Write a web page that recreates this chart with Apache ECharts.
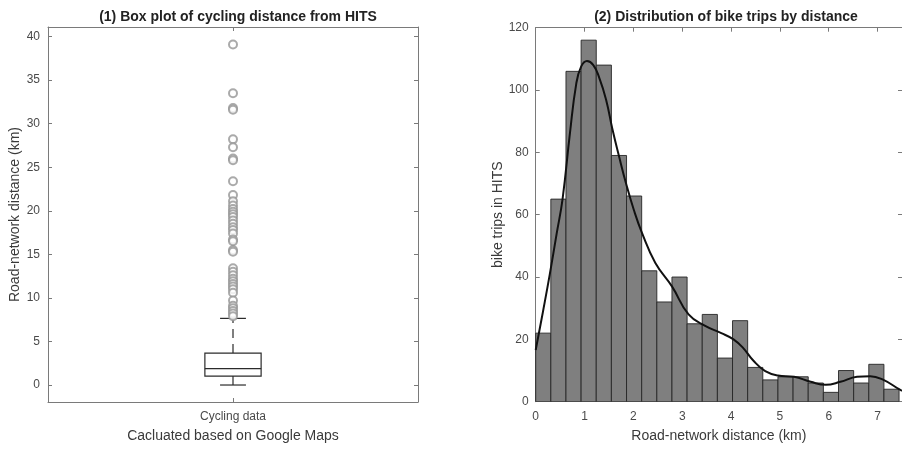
<!DOCTYPE html>
<html>
<head>
<meta charset="utf-8">
<script src="https://cdn.jsdelivr.net/npm/echarts@6/dist/echarts.min.js"></script>
<style>
html,body{margin:0;padding:0;background:#fff;}
#c{width:902px;height:451px;}
</style>
</head>
<body>
<div id="c"></div>
<script>
// ---------- data: panel (1) box plot ----------
var boxCategories = ['Cycling data'];
var boxStats = [0, 1.03, 1.87, 3.67, 7.65]; // lower whisker, Q1, median, Q3, upper whisker
var outliers = [39.1, 33.5, 31.8, 31.6, 28.2, 27.3, 26.0, 25.8, 23.4, 21.8, 21.1, 20.6, 20.2, 19.9,
  19.6, 19.3, 18.9, 18.5, 18.1, 17.8, 17.4, 16.7, 16.5, 15.5, 15.3, 13.4, 13.0, 12.6, 12.2, 11.9,
  11.6, 11.3, 11.0, 10.6, 9.7, 9.1, 8.8, 8.5, 8.2, 7.9];
var boxYTicks = [0, 5, 10, 15, 20, 25, 30, 35, 40];

// ---------- data: panel (2) histogram ----------
var binStarts = [0, 0.31, 0.62, 0.93, 1.24, 1.55, 1.86, 2.17, 2.48, 2.79, 3.10, 3.41,
  3.72, 4.03, 4.34, 4.65, 4.96, 5.27, 5.58, 5.89, 6.20, 6.51, 6.82, 7.13];
var binEnds = [0.31, 0.62, 0.93, 1.24, 1.55, 1.86, 2.17, 2.48, 2.79, 3.10, 3.41, 3.72,
  4.03, 4.34, 4.65, 4.96, 5.27, 5.58, 5.89, 6.20, 6.51, 6.82, 7.13, 7.44];
var binCounts = [22, 65, 106, 116, 108, 79, 66, 42, 32, 40, 25, 28,
  14, 26, 11, 7, 8, 8, 6, 3, 10, 6, 12, 4];
var curveX = [0, 0.15, 0.29, 0.43, 0.55, 0.70, 0.83, 0.93, 1.05, 1.18, 1.30, 1.44, 1.57, 1.71,
  1.85, 2.01, 2.18, 2.45, 2.79, 3.13, 3.47, 3.80, 4.05, 4.25, 4.45, 4.70, 4.96, 5.29, 5.63, 5.94,
  6.24, 6.58, 6.85, 7.12, 7.44, 7.5];
var curveY = [16.6, 29, 41, 54, 65, 86, 102, 107.5, 109.3, 108, 104, 97, 87.5, 78.5,
  70, 61.5, 54, 44.5, 37, 28, 24.3, 22, 20, 17.2, 13.3, 9.8, 8.4, 8, 6.4, 5.4,
  6.4, 8, 8.2, 7, 4.0, 3.5];
var histXTicks = [0, 1, 2, 3, 4, 5, 6, 7];
var histYTicks = [0, 20, 40, 60, 80, 100, 120];

// ---------- styling ----------
var FONT = 'Liberation Sans, Arial, Helvetica, sans-serif';
var AXIS_COLOR = '#7a7a7a';
var LABEL_COLOR = '#4a4a4a';
var NAME_COLOR = '#3a3a3a';

function axisBase(extra) {
  var base = {
    axisLine: { show: true, onZero: false, lineStyle: { color: AXIS_COLOR, width: 1 } },
    axisTick: { show: true, inside: true, length: 4, lineStyle: { color: AXIS_COLOR } },
    axisLabel: { color: LABEL_COLOR, fontSize: 12, fontFamily: FONT },
    splitLine: { show: false },
    nameTextStyle: { color: NAME_COLOR, fontSize: 14, fontFamily: FONT }
  };
  for (var k in extra) {
    if (typeof extra[k] === 'object' && base[k] && !Array.isArray(extra[k])) {
      for (var j in extra[k]) base[k][j] = extra[k][j];
    } else base[k] = extra[k];
  }
  return base;
}

var boxData = [[0].concat(boxStats)];
var outlierData = outliers.map(function (v) { return [0, v]; });
var histData = binStarts.map(function (s, i) { return [s, binEnds[i], binCounts[i]]; });
var curveData = curveX.map(function (x, i) { return [x, curveY[i]]; });

var option = {
  animation: false,
  backgroundColor: '#ffffff',
  title: [
    { text: '(1) Box plot of cycling distance from HITS', left: 233, top: 5, textAlign: 'center',
      textStyle: { fontSize: 14, fontWeight: 'bold', color: '#222', fontFamily: FONT } },
    { text: '(2) Distribution of bike trips by distance', left: 721, top: 5, textAlign: 'center',
      textStyle: { fontSize: 14, fontWeight: 'bold', color: '#222', fontFamily: FONT } }
  ],
  grid: [
    { left: 48, top: 27, width: 370, height: 375 },
    { left: 535.7, top: 27.7, width: 370, height: 374 }
  ],
  xAxis: [
    axisBase({ gridIndex: 0, type: 'category', data: boxCategories, position: 'bottom',
      axisTick: { alignWithLabel: true }, axisLabel: { margin: 9 },
      name: 'Cacluated based on Google Maps', nameLocation: 'middle', nameGap: 27 }),
    axisBase({ gridIndex: 0, type: 'category', data: boxCategories, position: 'top',
      axisTick: { alignWithLabel: true }, axisLabel: { show: false } }),
    axisBase({ gridIndex: 1, type: 'value', min: 0, max: 7.5, position: 'bottom',
      axisTick: { customValues: histXTicks }, axisLabel: { customValues: histXTicks, margin: 9 },
      name: 'Road-network distance (km)', nameLocation: 'middle', nameGap: 27 }),
    axisBase({ gridIndex: 1, type: 'value', min: 0, max: 7.5, position: 'top',
      axisTick: { customValues: histXTicks }, axisLabel: { show: false } })
  ],
  yAxis: [
    axisBase({ gridIndex: 0, type: 'value', min: -1.95, max: 41.1, position: 'left',
      axisTick: { customValues: boxYTicks }, axisLabel: { customValues: boxYTicks, margin: 8 },
      name: 'Road-network distance (km)', nameLocation: 'middle', nameGap: 26 }),
    axisBase({ gridIndex: 0, type: 'value', min: -1.95, max: 41.1, position: 'right',
      axisTick: { customValues: boxYTicks }, axisLabel: { show: false } }),
    axisBase({ gridIndex: 1, type: 'value', min: 0, max: 120, position: 'left',
      axisTick: { customValues: histYTicks }, axisLabel: { customValues: histYTicks, margin: 7 },
      name: 'bike trips in HITS', nameLocation: 'middle', nameGap: 30 }),
    axisBase({ gridIndex: 1, type: 'value', min: 0, max: 120, position: 'right',
      axisTick: { customValues: histYTicks }, axisLabel: { show: false } })
  ],
  series: [
    {
      type: 'custom', xAxisIndex: 0, yAxisIndex: 0, data: boxData,
      encode: { x: 0, y: [1, 2, 3, 4, 5] },
      renderItem: function (params, api) {
        var xi = api.value(0);
        var band = api.size([1, 0])[0];
        var halfBox = band * 0.076;
        var halfCap = band * 0.035;
        var pLo = api.coord([xi, api.value(1)]);
        var pQ1 = api.coord([xi, api.value(2)]);
        var pMed = api.coord([xi, api.value(3)]);
        var pQ3 = api.coord([xi, api.value(4)]);
        var pHi = api.coord([xi, api.value(5)]);
        var cx = pQ1[0];
        var stroke = { stroke: '#2b2b2b', lineWidth: 1.2, fill: null };
        var dashed = { stroke: '#2b2b2b', lineWidth: 1.2, lineDash: [9, 6] };
        return {
          type: 'group',
          children: [
            { type: 'line', shape: { x1: cx, y1: pQ3[1], x2: cx, y2: pHi[1] }, style: dashed },
            { type: 'line', shape: { x1: cx, y1: pQ1[1], x2: cx, y2: pLo[1] }, style: dashed },
            { type: 'line', shape: { x1: cx - halfCap, y1: pHi[1], x2: cx + halfCap, y2: pHi[1] }, style: stroke },
            { type: 'line', shape: { x1: cx - halfCap, y1: pLo[1], x2: cx + halfCap, y2: pLo[1] }, style: stroke },
            { type: 'rect', shape: { x: cx - halfBox, y: pQ3[1], width: halfBox * 2, height: pQ1[1] - pQ3[1] },
              style: { stroke: '#2b2b2b', lineWidth: 1.2, fill: '#ffffff' } },
            { type: 'line', shape: { x1: cx - halfBox, y1: pMed[1], x2: cx + halfBox, y2: pMed[1] }, style: stroke }
          ]
        };
      },
      z: 2
    },
    {
      type: 'scatter', xAxisIndex: 0, yAxisIndex: 0, data: outlierData,
      symbol: 'emptyCircle', symbolSize: 8,
      itemStyle: { color: '#959595', borderColor: '#959595', borderWidth: 1.4 },
      z: 3
    },
    {
      type: 'custom', xAxisIndex: 2, yAxisIndex: 2, data: histData,
      encode: { x: [0, 1], y: 2 },
      clip: true,
      renderItem: function (params, api) {
        var p0 = api.coord([api.value(0), api.value(2)]);
        var p1 = api.coord([api.value(1), 0]);
        return {
          type: 'rect',
          shape: { x: p0[0], y: p0[1], width: p1[0] - p0[0], height: p1[1] - p0[1] },
          style: { fill: '#7f7f7f', stroke: '#262626', lineWidth: 0.9 }
        };
      },
      z: 2
    },
    {
      type: 'line', xAxisIndex: 2, yAxisIndex: 2, data: curveData,
      smooth: 0.45, symbol: 'none', clip: true,
      lineStyle: { color: '#111111', width: 2 },
      z: 4
    }
  ]
};

var chart = echarts.init(document.getElementById('c'), null, { renderer: 'canvas' });
chart.setOption(option);
</script>
</body>
</html>
